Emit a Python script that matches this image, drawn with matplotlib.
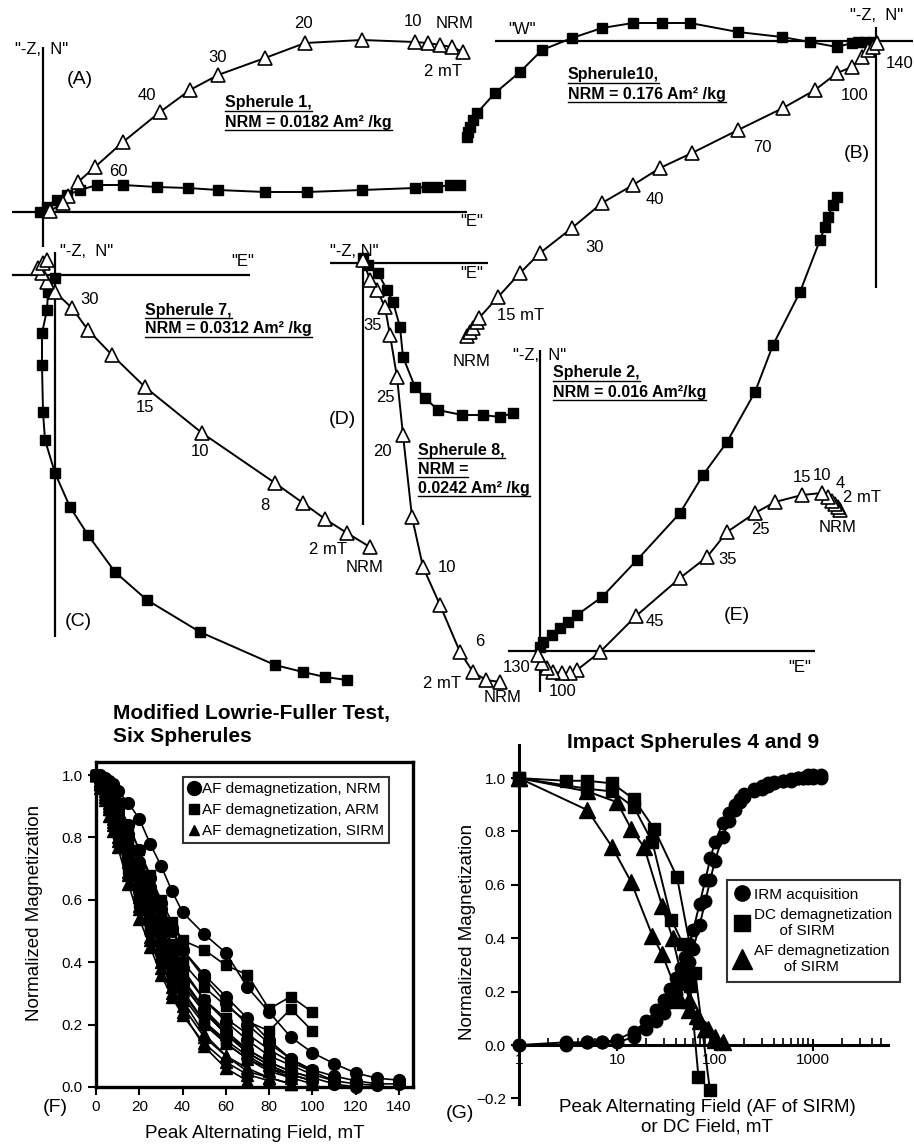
import matplotlib
matplotlib.use("Agg")
import matplotlib.pyplot as plt
from matplotlib.transforms import Affine2D
from matplotlib.lines import Line2D

plt.rcParams['font.family'] = ['Liberation Sans', 'DejaVu Sans']

W, H = 914, 1144
UNIT = 100.0  # px per plot unit in the vector plots

# ---------------- VECTOR ENDPOINT DATA (east, north/up) ----------------
# first point = NRM, last point = highest AF step
# Spherule 1 (A)
A_sq_e = [4.17, 4.07, 3.94, 3.84, 3.72, 3.19, 2.64, 2.22, 1.75, 1.45, 1.14, 0.80, 0.54, 0.37, 0.24, 0.14, 0.04, -0.03]
A_sq_n = [0.27, 0.27, 0.25, 0.25, 0.24, 0.22, 0.20, 0.20, 0.22, 0.24, 0.25, 0.27, 0.27, 0.22, 0.17, 0.12, 0.05, 0.00]
A_tr_e = [4.20, 4.09, 3.97, 3.85, 3.72, 3.19, 2.62, 2.22, 1.75, 1.47, 1.17, 0.80, 0.52, 0.35, 0.25, 0.20, 0.07]
A_tr_n = [1.60, 1.65, 1.67, 1.69, 1.70, 1.72, 1.69, 1.54, 1.37, 1.22, 1.00, 0.70, 0.45, 0.30, 0.16, 0.09, 0.01]

# Spherule 10 (B)
B_sq_e = [-4.09, -4.08, -4.06, -4.03, -3.99, -3.81, -3.56, -3.34, -3.04, -2.74, -2.43, -2.14, -1.86, -1.38, -0.94, -0.66, -0.39, -0.24, -0.18, -0.11, -0.03]
B_sq_n = [-0.96, -0.91, -0.86, -0.79, -0.72, -0.52, -0.31, -0.09, 0.03, 0.13, 0.18, 0.18, 0.18, 0.09, 0.04, -0.01, -0.06, -0.02, -0.01, -0.01, -0.01]
B_tr_e = [-4.09, -4.06, -4.03, -3.99, -3.97, -3.78, -3.56, -3.36, -3.04, -2.74, -2.43, -2.16, -1.84, -1.38, -0.93, -0.61, -0.39, -0.24, -0.14, -0.08, -0.03, 0.01]
B_tr_n = [-2.95, -2.91, -2.87, -2.81, -2.77, -2.56, -2.32, -2.12, -1.87, -1.62, -1.44, -1.27, -1.12, -0.89, -0.67, -0.49, -0.32, -0.26, -0.16, -0.09, -0.06, -0.02]

# Spherule 7 (C)
C_sq_e = [2.92, 2.70, 2.48, 2.20, 1.45, 0.92, 0.60, 0.33, 0.15, 0.00, -0.10, -0.12, -0.13, -0.13, -0.08, -0.07, 0.00]
C_sq_n = [-4.05, -4.02, -3.97, -3.90, -3.57, -3.25, -2.97, -2.60, -2.32, -1.98, -1.65, -1.37, -0.90, -0.58, -0.35, -0.17, -0.03]
C_tr_e = [3.15, 2.92, 2.70, 2.48, 2.20, 1.47, 0.90, 0.57, 0.33, 0.17, 0.00, -0.08, -0.13, -0.17, -0.12, -0.08]
C_tr_n = [-2.72, -2.58, -2.44, -2.28, -2.08, -1.58, -1.12, -0.80, -0.55, -0.33, -0.17, -0.07, 0.02, 0.07, 0.12, 0.15]

# Spherule 8 (D)
D_sq_e = [1.50, 1.37, 1.20, 0.99, 0.75, 0.62, 0.52, 0.40, 0.37, 0.30, 0.24, 0.15, 0.05, 0.00]
D_sq_n = [-1.50, -1.54, -1.52, -1.52, -1.47, -1.35, -1.24, -0.94, -0.64, -0.39, -0.27, -0.10, -0.02, 0.05]
D_tr_e = [1.37, 1.23, 1.10, 0.97, 0.77, 0.60, 0.49, 0.40, 0.34, 0.27, 0.22, 0.14, 0.07, 0.00]
D_tr_n = [-4.19, -4.17, -4.09, -3.89, -3.42, -3.04, -2.54, -1.72, -1.14, -0.72, -0.44, -0.27, -0.17, 0.03]

# Spherule 2 (E)
E_sq_e = [2.97, 2.93, 2.88, 2.85, 2.80, 2.60, 2.33, 2.15, 1.87, 1.63, 1.40, 0.97, 0.62, 0.37, 0.28, 0.20, 0.12, 0.03, 0.00]
E_sq_n = [4.54, 4.46, 4.34, 4.24, 4.11, 3.59, 3.06, 2.59, 2.09, 1.76, 1.38, 0.91, 0.54, 0.36, 0.29, 0.23, 0.16, 0.09, 0.04]
E_tr_e = [3.00, 2.98, 2.95, 2.92, 2.88, 2.82, 2.62, 2.35, 2.15, 1.87, 1.67, 1.40, 0.96, 0.60, 0.37, 0.30, 0.22, 0.13, 0.07, 0.02, -0.02]
E_tr_n = [1.41, 1.44, 1.47, 1.50, 1.54, 1.58, 1.56, 1.49, 1.38, 1.19, 0.94, 0.73, 0.35, -0.01, -0.19, -0.22, -0.22, -0.21, -0.17, -0.12, -0.04]

# ---------------- LOWRIE-FULLER CURVES (F) ----------------
F_STEPS = [0, 2, 4, 6, 8, 10, 15, 20, 25, 30, 35, 40, 50, 60, 70, 80, 90, 100, 110, 120, 130, 140]
nrm_curves = [
    [1.00, 1.00, 0.99, 0.98, 0.97, 0.95, 0.91, 0.86, 0.78, 0.71, 0.63, 0.56, 0.49, 0.43, 0.32, 0.24, 0.16, 0.11, 0.075, 0.045, 0.028, 0.022],
    [1.00, 0.99, 0.98, 0.96, 0.94, 0.91, 0.84, 0.76, 0.67, 0.59, 0.51, 0.44, 0.35, 0.27, 0.20, 0.14, 0.09, 0.055, 0.035, 0.02, 0.01, 0.01],
    [1.00, 0.99, 0.97, 0.95, 0.92, 0.89, 0.81, 0.71, 0.62, 0.53, 0.45, 0.38, 0.28, 0.21, 0.15, 0.10, 0.07, 0.04, 0.02, 0.01, 0.005],
    [1.00, 0.98, 0.96, 0.93, 0.90, 0.86, 0.77, 0.67, 0.58, 0.49, 0.41, 0.34, 0.25, 0.18, 0.12, 0.08, 0.05, 0.03, 0.01, 0.00],
    [1.00, 0.99, 0.97, 0.94, 0.91, 0.88, 0.80, 0.72, 0.64, 0.57, 0.50, 0.44, 0.36, 0.29, 0.22, 0.15, 0.09, 0.05, 0.02],
    [1.00, 0.98, 0.95, 0.91, 0.87, 0.83, 0.73, 0.63, 0.54, 0.46, 0.39, 0.33, 0.24, 0.17, 0.11, 0.07, 0.04, 0.02],
]
arm_curves = [
    [1.00, 0.99, 0.98, 0.96, 0.94, 0.91, 0.84, 0.76, 0.68, 0.60, 0.53, 0.47, 0.44, 0.39, 0.36, 0.25, 0.29, 0.24],
    [1.00, 0.99, 0.97, 0.95, 0.92, 0.88, 0.80, 0.71, 0.62, 0.54, 0.46, 0.40, 0.32, 0.26, 0.21, 0.18, 0.25, 0.18],
    [1.00, 0.98, 0.96, 0.93, 0.89, 0.85, 0.75, 0.65, 0.56, 0.47, 0.40, 0.33, 0.24, 0.17, 0.12, 0.08, 0.05, 0.03],
    [1.00, 0.98, 0.95, 0.92, 0.88, 0.83, 0.72, 0.62, 0.52, 0.44, 0.36, 0.30, 0.21, 0.15, 0.10, 0.06, 0.04, 0.02],
    [1.00, 0.99, 0.97, 0.94, 0.91, 0.87, 0.78, 0.68, 0.59, 0.51, 0.43, 0.37, 0.28, 0.22, 0.17, 0.12, 0.08, 0.05],
    [1.00, 0.97, 0.94, 0.90, 0.86, 0.81, 0.70, 0.59, 0.50, 0.42, 0.35, 0.29, 0.20, 0.14, 0.09, 0.06, 0.03],
]
sirm_curves = [
    [1.00, 0.97, 0.93, 0.89, 0.85, 0.80, 0.69, 0.58, 0.47, 0.38, 0.30, 0.24, 0.13, 0.06, 0.02],
    [1.00, 0.97, 0.94, 0.90, 0.86, 0.82, 0.72, 0.61, 0.51, 0.42, 0.34, 0.28, 0.17, 0.10, 0.05, 0.03, 0.01],
    [1.00, 0.98, 0.95, 0.91, 0.87, 0.83, 0.73, 0.63, 0.54, 0.45, 0.38, 0.31, 0.21, 0.14, 0.09, 0.05, 0.03, 0.01],
    [1.00, 0.97, 0.93, 0.89, 0.84, 0.79, 0.68, 0.57, 0.48, 0.40, 0.32, 0.26, 0.16, 0.10, 0.06, 0.03, 0.01],
    [1.00, 0.98, 0.96, 0.93, 0.89, 0.85, 0.76, 0.66, 0.57, 0.48, 0.41, 0.35, 0.25, 0.17, 0.11, 0.07, 0.04, 0.02],
    [1.00, 0.96, 0.92, 0.87, 0.82, 0.77, 0.65, 0.54, 0.45, 0.36, 0.29, 0.23, 0.14, 0.08, 0.04, 0.02],
]

# ---------------- SPHERULES 4 AND 9 (G) ----------------
irm_field = [1, 3, 5, 7, 10, 15, 20, 25, 30, 35, 40, 45, 50, 55, 60, 70, 80, 90, 100, 120, 140,
             160, 180, 200, 250, 300, 350, 400, 500, 600, 700, 800, 900, 1000, 1200]
irm_a = [0, 0.01, 0.01, 0.01, 0.02, 0.05, 0.09, 0.13, 0.17, 0.21, 0.25, 0.29, 0.33, 0.38, 0.43, 0.53, 0.62, 0.70,
         0.76, 0.83, 0.87, 0.90, 0.92, 0.94, 0.96, 0.97, 0.98, 0.985, 0.99, 0.995, 1.0, 1.0, 1.0, 1.0, 1.0]
irm_b = [0, 0, 0.01, 0.01, 0.01, 0.03, 0.06, 0.09, 0.12, 0.16, 0.19, 0.23, 0.27, 0.31, 0.36, 0.45, 0.54, 0.62,
         0.69, 0.78, 0.84, 0.88, 0.91, 0.93, 0.95, 0.96, 0.97, 0.98, 0.99, 0.99, 1.0, 1.0, 1.01, 1.01, 1.01]
dc_field_a = [1, 3, 5, 9, 15, 24, 41, 63, 89]
dc_a = [1.0, 0.99, 0.99, 0.98, 0.92, 0.81, 0.63, 0.27, -0.17]
dc_field_b = [1, 5, 9, 15, 23, 36, 47, 56, 68]
dc_b = [1.0, 0.96, 0.95, 0.89, 0.76, 0.47, 0.38, 0.22, -0.12]
af_field_a = [1, 5, 10, 14, 19, 29, 37, 45, 55, 65, 80, 100]
af_a = [1.0, 0.95, 0.91, 0.81, 0.74, 0.52, 0.40, 0.27, 0.17, 0.11, 0.06, 0.02]
af_field_b = [1, 5, 9, 14, 23, 29, 44, 55, 70, 85, 100, 120]
af_b = [1.0, 0.88, 0.74, 0.61, 0.41, 0.34, 0.17, 0.13, 0.09, 0.06, 0.03, 0.01]


def box(l, t, r, b):
    return [l / W, 1 - b / H, (r - l) / W, (b - t) / H]


fig = plt.figure(figsize=(W / 100, H / 100), dpi=100)

# pixel-unit canvas for the five vector plots
cv = fig.add_axes([0, 0, 1, 1])
cv.set_xlim(0, W)
cv.set_ylim(H, 0)
cv.set_autoscale_on(False)
cv.axis('off')

underlined = []


def cross(ox, oy, l, r, t, b):
    cv.plot([l, r], [oy, oy], color='k', lw=1.6, solid_capstyle='butt')
    cv.plot([ox, ox], [t, b], color='k', lw=1.6, solid_capstyle='butt')


def vectors(ox, oy, sq_e, sq_n, tr_e, tr_n):
    tr = Affine2D().scale(UNIT, -UNIT).translate(ox, oy) + cv.transData
    cv.plot(sq_e, sq_n, color='k', lw=1.4, marker='s', ms=7.5, transform=tr, clip_on=False, zorder=3)
    cv.plot(tr_e, tr_n, color='k', lw=1.4, marker='^', ms=10.5, mfc='white', mec='k', mew=1.2,
            transform=tr, clip_on=False, zorder=4)


def labels(items, size=12):
    for x, y, s in items:
        cv.text(x, y, s, fontsize=size, ha='center', va='center', zorder=5)


def title_block(x, y0, lines, dy=19):
    for i, s in enumerate(lines):
        t = cv.text(x, y0 + i * dy, s, fontsize=11.5, fontweight='bold', ha='left', va='center')
        underlined.append(t)


# (A) spherule 1
cross(43, 212, 12, 467, 47, 247)
vectors(43, 212, A_sq_e, A_sq_n, A_tr_e, A_tr_n)
labels([(42, 50, '"-Z,  N"'), (472, 222, '"E"'), (303, 23, '20'), (413, 21, '10'), (455, 23, 'NRM'),
        (443, 72, '2 mT'), (218, 58, '30'), (147, 95, '40'), (118, 172, '60')])
labels([(80, 80, '(A)')], size=14)
title_block(225, 103, ['Spherule 1,', 'NRM = 0.0182 Am² /kg'])

# (B) spherule 10
cross(876, 41, 495, 913, 27, 288)
vectors(876, 41, B_sq_e, B_sq_n, B_tr_e, B_tr_n)
labels([(877, 16, '"-Z,  N"'), (522, 30, '"W"'), (900, 63, '140'), (855, 95, '100'), (762, 148, '70'),
        (655, 200, '40'), (595, 247, '30'), (521, 315, '15 mT'), (472, 362, 'NRM')])
labels([(857, 153, '(B)')], size=14)
title_block(568, 75, ['Spherule10,', 'NRM = 0.176 Am² /kg'])

# (C) spherule 7
cross(55, 275, 12, 250, 252, 637)
vectors(55, 275, C_sq_e, C_sq_n, C_tr_e, C_tr_n)
cv.text(60, 252, '"-Z,  N"', fontsize=12, ha='left', va='center')
labels([(243, 262, '"E"'), (90, 300, '30'), (145, 408, '15'), (200, 452, '10'), (265, 505, '8'),
        (328, 550, '2 mT'), (365, 568, 'NRM')])
labels([(78, 622, '(C)')], size=14)
title_block(145, 310, ['Spherule 7,', 'NRM = 0.0312 Am² /kg'])

# (D) spherule 8
cross(363, 263, 330, 488, 255, 525)
vectors(363, 263, D_sq_e, D_sq_n, D_tr_e, D_tr_n)
labels([(354, 252, '"-Z, N"'), (472, 273, '"E"'), (373, 325, '35'), (385, 398, '25'), (382, 452, '20'),
        (447, 568, '10'), (480, 642, '6'), (442, 683, '2 mT'), (503, 698, 'NRM')])
labels([(342, 420, '(D)')], size=14)
title_block(418, 450, ['Spherule 8,', 'NRM =', '0.0242 Am² /kg'])

# (E) spherule 2
cross(540, 651, 508, 815, 350, 692)
vectors(540, 651, E_sq_e, E_sq_n, E_tr_e, E_tr_n)
labels([(540, 355, '"-Z,  N"'), (800, 668, '"E"'), (802, 478, '15'), (822, 475, '10'), (840, 483, '4'),
        (862, 497, '2 mT'), (838, 527, 'NRM'), (760, 530, '25'), (728, 560, '35'), (655, 622, '45'),
        (517, 667, '130'), (563, 692, '100')])
labels([(737, 615, '(E)')], size=14)
title_block(553, 373, ['Spherule 2,', 'NRM = 0.016 Am²/kg'])

# ---------------- (F) Modified Lowrie-Fuller test ----------------
axF = fig.add_axes(box(96, 762, 413, 1087))
axF.patch.set_alpha(0)
for v in nrm_curves:
    axF.plot(F_STEPS[:len(v)], v, color='k', lw=1.2, marker='o', ms=8.5, clip_on=False)
for v in arm_curves:
    axF.plot(F_STEPS[:len(v)], v, color='k', lw=1.2, marker='s', ms=7, clip_on=False)
for v in sirm_curves:
    axF.plot(F_STEPS[:len(v)], v, color='k', lw=1.2, marker='^', ms=8, clip_on=False)
axF.set_xlim(0, 146.5)
axF.set_ylim(0, 1.042)
axF.set_xticks(range(0, 141, 20))
axF.set_yticks([0, 0.2, 0.4, 0.6, 0.8, 1.0])
axF.yaxis.set_major_formatter('{x:.1f}')
axF.tick_params(direction='out', length=6, width=1.5, labelsize=11)
for sp in axF.spines.values():
    sp.set_linewidth(2.4)
hF = [Line2D([], [], ls='none', marker=m, color='k', ms=s) for m, s in (('o', 10), ('s', 7), ('^', 7))]
legF = axF.legend(hF, ['AF demagnetization, NRM', 'AF demagnetization, ARM', 'AF demagnetization, SIRM'],
                  loc='upper left', bbox_to_anchor=(183 / W, 1 - 777 / H), bbox_transform=fig.transFigure,
                  fontsize=11, frameon=True, fancybox=False, edgecolor='k', handlelength=0.8,
                  handletextpad=0.1, borderpad=0.35, labelspacing=0.45, borderaxespad=0)
legF.get_frame().set_linewidth(1.5)

cv.text(113, 713, 'Modified Lowrie-Fuller Test,', fontsize=15, fontweight='bold', ha='left', va='center')
cv.text(113, 737, 'Six Spherules', fontsize=15, fontweight='bold', ha='left', va='center')
cv.text(35, 913, 'Normalized Magnetization', fontsize=13.5, rotation=90, ha='center', va='center')
cv.text(255, 1133, 'Peak Alternating Field, mT', fontsize=13.5, ha='center', va='center')
cv.text(55, 1108, '(F)', fontsize=14, ha='center', va='center')

# ---------------- (G) Impact spherules 4 and 9 ----------------
axG = fig.add_axes(box(519, 745, 888, 1104))
axG.patch.set_alpha(0)
axG.set_xscale('log')
for f, v in ((irm_field, irm_a), (irm_field, irm_b)):
    axG.plot(f, v, color='k', lw=1.4, marker='o', ms=9, clip_on=False)
for f, v in ((dc_field_a, dc_a), (dc_field_b, dc_b)):
    axG.plot(f, v, color='k', lw=1.4, marker='s', ms=9, clip_on=False)
for f, v in ((af_field_a, af_a), (af_field_b, af_b)):
    axG.plot(f, v, color='k', lw=1.4, marker='^', ms=11, clip_on=False)
axG.set_xlim(1, 5860)
axG.set_ylim(-0.221, 1.124)
axG.spines['bottom'].set_position(('data', 0))
axG.spines['top'].set_visible(False)
axG.spines['right'].set_visible(False)
axG.spines['left'].set_linewidth(2.2)
axG.spines['bottom'].set_linewidth(2.2)
axG.set_xticks([1, 10, 100, 1000])
axG.set_xticklabels(['1', '10', '100', '1000'])
axG.set_yticks([-0.2, 0, 0.2, 0.4, 0.6, 0.8, 1.0])
axG.yaxis.set_major_formatter('{x:.1f}')
axG.tick_params(axis='x', which='major', direction='inout', length=9, width=1.5, labelsize=11, pad=1)
axG.tick_params(axis='x', which='minor', direction='in', length=5, width=1.2)
axG.tick_params(axis='y', direction='out', length=6, width=1.5, labelsize=11)
hG = [Line2D([], [], ls='none', marker=m, color='k', ms=s) for m, s in (('o', 11), ('s', 11), ('^', 14))]
legG = axG.legend(hG, ['IRM acquisition', 'DC demagnetization\n      of SIRM', 'AF demagnetization\n       of SIRM'],
                  loc='upper left', bbox_to_anchor=(727 / W, 1 - 880 / H), bbox_transform=fig.transFigure,
                  fontsize=11, frameon=True, fancybox=False, edgecolor='k', handlelength=1.0,
                  handletextpad=0.3, borderpad=0.5, labelspacing=0.4, borderaxespad=0)
legG.get_frame().set_linewidth(1.5)

cv.text(693, 743, 'Impact Spherules 4 and 9', fontsize=15, fontweight='bold', ha='center', va='center')
cv.text(468, 932, 'Normalized Magnetization', fontsize=13.5, rotation=90, ha='center', va='center')
cv.text(707, 1107, 'Peak Alternating Field (AF of SIRM)', fontsize=13.5, ha='center', va='center')
cv.text(707, 1127, 'or DC Field, mT', fontsize=13.5, ha='center', va='center')
cv.text(460, 1113, '(G)', fontsize=14, ha='center', va='center')

# underline the sample labels
fig.canvas.draw()
inv = fig.transFigure.inverted()
for t in underlined:
    bb = t.get_window_extent()
    (x0, y0), (x1, _) = inv.transform([[bb.x0, bb.y0], [bb.x1, bb.y1]])
    fig.add_artist(Line2D([x0, x1], [y0, y0], transform=fig.transFigure, color='k', lw=1.0))

fig.savefig('out.png', dpi=100)
